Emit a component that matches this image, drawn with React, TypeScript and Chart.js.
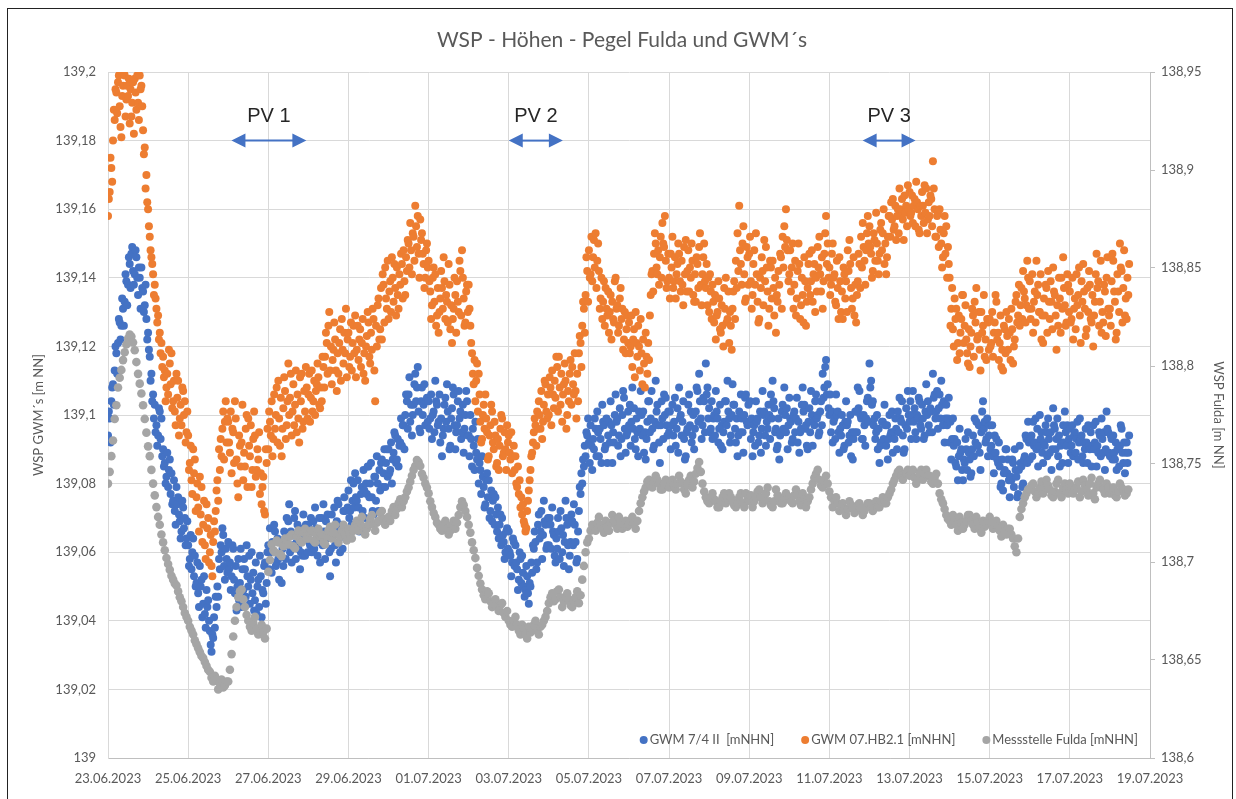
import React, { useEffect, useRef } from "react";
import { Chart, registerables } from "chart.js";

Chart.register(...registerables);

// ---------------- data ----------------
const chartTitle = "WSP - Höhen - Pegel Fulda und GWM´s";
const leftAxisTitle = "WSP GWM´s [m NN]";
const rightAxisTitle = "WSP Fulda [m NN]";

// x axis: days since 23.06.2023 00:00, tick every 2 days
const xTickLabels = [
  "23.06.2023", "25.06.2023", "27.06.2023", "29.06.2023", "01.07.2023", "03.07.2023", "05.07.2023",
  "07.07.2023", "09.07.2023", "11.07.2023", "13.07.2023", "15.07.2023", "17.07.2023", "19.07.2023",
];
const GWM_SAMPLES_PER_DAY = 48; // GWM loggers: half-hourly readings
const FULDA_SAMPLES_PER_DAY = 24; // Fulda gauge: hourly readings

const seriesNames = ["GWM 7/4 II  [mNHN]", "GWM 07.HB2.1 [mNHN]", "Messstelle Fulda [mNHN]"];
const seriesColors = ["#4472C4", "#ED7D31", "#A5A5A5"];

// GWM readings are in mm above 139.000 m NN (left axis)
const GWM_BASE_M = 139.0;
// Fulda readings are in mm above 138.600 m NN (right axis)
const FULDA_BASE_M = 138.6;

// GWM 7/4 II — one row per day, half-hourly
const gwm74II_mm = [
  94, 101, 99, 92, 104, 108, 109, 103, 113, 120, 118, 112, 121, 128, 127, 122, 126, 134, 131, 126, 133, 141, 139, 132, 138, 146, 144, 137, 147, 149, 142, 138, 141, 148, 146, 140, 135, 143, 140, 131, 143, 137, 136, 130, 132, 138, 128, 122,
  124, 119, 117, 110, 112, 104, 106, 99, 103, 95, 97, 91, 94, 102, 101, 93, 99, 88, 90, 85, 86, 80, 82, 89, 79, 84, 87, 77, 83, 74, 75, 81, 72, 68, 79, 74, 76, 71, 69, 64, 66, 75, 73, 67, 70, 62, 64, 69,
  62, 56, 58, 65, 55, 60, 64, 53, 59, 50, 51, 57, 48, 44, 56, 50, 52, 41, 45, 53, 42, 38, 49, 44, 46, 40, 37, 33, 31, 36, 35, 41, 38, 47, 44, 50, 47, 58, 55, 62, 60, 67, 65, 56, 52, 61, 58, 54,
  63, 55, 57, 49, 53, 62, 61, 52, 48, 56, 43, 50, 58, 46, 51, 61, 44, 55, 49, 58, 55, 47, 62, 53, 50, 59, 45, 52, 60, 48, 54, 43, 46, 57, 42, 50, 52, 44, 59, 53, 41, 49, 48, 56, 57, 45, 51, 60,
  62, 55, 67, 60, 54, 63, 60, 68, 66, 56, 57, 64, 58, 52, 63, 59, 51, 61, 56, 66, 64, 58, 70, 62, 69, 74, 60, 66, 57, 62, 65, 70, 72, 58, 63, 68, 61, 67, 55, 60, 66, 59, 71, 65, 59, 68, 64, 60,
  68, 63, 62, 70, 60, 66, 69, 61, 73, 67, 65, 59, 63, 70, 57, 64, 70, 62, 74, 66, 58, 69, 64, 71, 66, 60, 53, 61, 71, 65, 67, 73, 62, 57, 69, 75, 74, 66, 60, 68, 67, 61, 72, 76, 72, 64, 65, 73,
  78, 70, 72, 81, 68, 75, 80, 73, 83, 76, 75, 81, 73, 66, 69, 77, 79, 72, 84, 78, 70, 80, 77, 85, 85, 76, 80, 86, 76, 72, 71, 82, 82, 75, 88, 80, 72, 84, 78, 86, 87, 79, 83, 90, 79, 86, 90, 82,
  90, 83, 84, 92, 80, 87, 89, 95, 94, 86, 87, 93, 85, 91, 92, 99, 91, 97, 97, 90, 100, 106, 104, 96, 106, 111, 98, 103, 94, 100, 103, 109, 112, 104, 108, 114, 101, 96, 95, 104, 108, 100, 103, 109, 97, 104, 105, 98,
  104, 96, 99, 106, 93, 100, 101, 95, 110, 104, 103, 97, 98, 106, 92, 99, 88, 94, 96, 103, 105, 98, 109, 101, 96, 90, 91, 99, 102, 108, 106, 97, 90, 95, 97, 104, 107, 99, 101, 93, 95, 103, 89, 96, 100, 107, 104, 94,
  94, 88, 100, 93, 85, 96, 91, 84, 98, 89, 87, 93, 80, 86, 84, 77, 88, 82, 79, 73, 74, 81, 83, 76, 81, 70, 72, 78, 69, 75, 77, 68, 76, 71, 66, 73, 64, 68, 71, 62, 70, 65, 63, 58, 60, 66, 67, 61,
  66, 60, 59, 53, 57, 64, 63, 56, 62, 57, 55, 49, 52, 60, 58, 51, 59, 54, 50, 47, 49, 56, 53, 48, 45, 51, 50, 57, 54, 62, 61, 66, 63, 55, 57, 68, 71, 64, 66, 72, 58, 65, 75, 69, 68, 61, 62, 70,
  62, 70, 68, 61, 73, 66, 65, 59, 57, 64, 61, 70, 66, 58, 72, 67, 60, 65, 56, 63, 75, 70, 68, 62, 55, 59, 63, 71, 69, 62, 74, 68, 63, 57, 58, 66, 72, 79, 77, 83, 80, 87, 85, 91, 88, 95, 94, 99,
  92, 86, 97, 91, 84, 93, 90, 99, 96, 88, 101, 95, 88, 96, 93, 86, 103, 98, 97, 90, 91, 99, 86, 94, 98, 92, 104, 97, 86, 95, 92, 100, 106, 98, 99, 91, 94, 102, 88, 93, 100, 107, 105, 96, 89, 94, 95, 101,
  97, 103, 91, 98, 108, 96, 102, 93, 90, 99, 95, 88, 101, 96, 107, 100, 94, 101, 89, 95, 87, 93, 98, 104, 104, 95, 99, 107, 96, 90, 91, 98, 110, 101, 103, 97, 92, 86, 97, 104, 99, 93, 106, 100, 105, 97, 94, 101,
  95, 101, 90, 97, 103, 94, 98, 105, 91, 96, 102, 89, 108, 99, 100, 94, 98, 104, 93, 87, 88, 95, 96, 103, 106, 97, 101, 92, 94, 100, 90, 96, 101, 108, 107, 98, 112, 104, 99, 93, 97, 105, 104, 95, 115, 106, 108, 99,
  102, 95, 96, 104, 93, 99, 100, 94, 107, 101, 99, 92, 96, 103, 91, 97, 90, 95, 98, 104, 104, 97, 110, 101, 99, 92, 94, 100, 109, 103, 103, 96, 92, 99, 88, 94, 101, 95, 106, 99, 95, 89, 100, 105, 106, 98, 97, 103,
  98, 104, 93, 99, 88, 95, 97, 91, 104, 98, 99, 92, 94, 101, 89, 96, 107, 100, 101, 94, 91, 98, 96, 103, 100, 93, 106, 99, 110, 104, 102, 95, 96, 90, 91, 99, 87, 94, 95, 101, 103, 96, 108, 100, 95, 102, 90, 97,
  105, 99, 98, 92, 93, 100, 101, 95, 99, 105, 92, 98, 89, 95, 96, 103, 108, 101, 103, 96, 97, 91, 90, 98, 102, 95, 107, 100, 91, 98, 97, 104, 106, 99, 100, 94, 95, 101, 104, 97, 112, 105, 108, 114, 116, 106, 109, 102,
  100, 106, 95, 101, 92, 98, 99, 93, 106, 100, 101, 95, 89, 96, 94, 100, 97, 90, 91, 98, 104, 97, 98, 92, 94, 100, 88, 95, 87, 93, 95, 101, 101, 95, 108, 102, 107, 100, 99, 93, 93, 100, 97, 91, 99, 104, 105, 98,
  115, 108, 110, 103, 104, 97, 99, 93, 95, 100, 90, 96, 86, 91, 92, 98, 98, 93, 103, 97, 91, 97, 87, 93, 100, 94, 95, 101, 89, 95, 93, 99, 96, 90, 101, 95, 105, 99, 98, 104, 94, 89, 90, 97, 102, 96, 107, 100,
  98, 104, 93, 100, 107, 98, 102, 95, 93, 100, 99, 105, 104, 97, 96, 103, 99, 93, 94, 101, 109, 100, 104, 97, 95, 102, 101, 95, 112, 105, 106, 99, 101, 107, 96, 102, 106, 99, 110, 103, 97, 104, 92, 99, 103, 97, 99, 105,
  92, 98, 87, 93, 99, 91, 93, 86, 85, 92, 81, 88, 96, 89, 90, 84, 81, 87, 86, 93, 90, 84, 95, 89, 87, 82, 83, 90, 94, 88, 99, 92, 98, 91, 91, 97, 89, 84, 95, 101, 104, 96, 98, 92, 93, 99, 88, 94,
  97, 90, 91, 97, 88, 83, 94, 89, 93, 87, 86, 92, 85, 79, 80, 87, 78, 83, 84, 90, 90, 83, 87, 81, 76, 82, 81, 87, 86, 79, 90, 84, 82, 76, 77, 84, 91, 86, 85, 79, 80, 87, 88, 94, 93, 86, 98, 92,
  87, 93, 94, 88, 98, 91, 92, 99, 90, 96, 85, 91, 100, 93, 95, 89, 86, 92, 91, 97, 95, 88, 99, 93, 89, 95, 84, 90, 102, 97, 96, 90, 93, 99, 88, 94, 85, 91, 92, 86, 97, 92, 101, 95, 91, 97, 86, 93,
  96, 89, 91, 97, 88, 94, 95, 89, 93, 98, 87, 92, 99, 93, 94, 88, 86, 92, 90, 96, 92, 86, 97, 91, 90, 95, 85, 91, 97, 90, 92, 98, 85, 91, 89, 95, 94, 88, 99, 93, 89, 95, 84, 90, 101, 96, 95, 89,
  88, 94, 93, 87, 94, 89, 87, 92, 84, 90, 90, 85, 91, 97, 96, 89, 86, 92, 83, 89, 92, 86, 89, 94,
];

// GWM 07.HB2.1 — one row per day, half-hourly
const gwm07HB21_mm = [
  158, 163, 165, 175, 172, 168, 180, 189, 186, 195, 194, 188, 197, 199, 190, 184, 181, 193, 196, 200, 199, 187, 192, 196, 193, 198, 185, 195, 187, 191, 197, 182, 198, 194, 189, 199, 191, 186, 199, 195, 196, 190, 183, 176, 178, 166, 170, 162,
  160, 155, 152, 148, 146, 144, 141, 135, 138, 134, 131, 127, 129, 122, 124, 118, 121, 114, 117, 111, 113, 104, 108, 112, 106, 119, 115, 109, 118, 102, 104, 110, 101, 97, 112, 105, 110, 94, 99, 103, 97, 108, 107, 100, 104, 92, 95, 101,
  94, 84, 86, 91, 81, 77, 90, 83, 87, 72, 76, 80, 73, 66, 82, 71, 79, 63, 68, 75, 62, 58, 74, 67, 70, 57, 60, 65, 56, 53, 63, 69, 66, 72, 78, 81, 75, 90, 84, 93, 88, 96, 101, 87, 98, 104, 92, 99,
  98, 92, 89, 101, 83, 96, 95, 86, 104, 99, 87, 80, 76, 94, 91, 85, 92, 103, 81, 89, 85, 96, 100, 79, 99, 91, 88, 97, 79, 84, 93, 101, 94, 82, 84, 90, 87, 95, 77, 83, 74, 79, 82, 72, 71, 90, 86, 96,
  90, 101, 98, 94, 104, 88, 93, 106, 96, 100, 108, 92, 110, 99, 91, 105, 88, 96, 102, 111, 107, 93, 97, 104, 115, 100, 105, 112, 94, 101, 109, 97, 103, 113, 95, 106, 99, 92, 111, 104, 112, 96, 98, 107, 101, 114, 108, 99,
  106, 112, 98, 105, 113, 101, 104, 110, 100, 107, 109, 115, 111, 103, 102, 108, 104, 117, 114, 108, 117, 124, 121, 112, 126, 130, 113, 120, 109, 116, 119, 127, 122, 113, 107, 118, 112, 121, 125, 110, 128, 119, 115, 124, 118, 131, 111, 122,
  124, 114, 117, 127, 113, 121, 126, 118, 129, 111, 119, 126, 116, 122, 125, 114, 121, 128, 112, 118, 110, 120, 123, 130, 127, 117, 115, 124, 119, 131, 128, 113, 104, 126, 120, 132, 134, 122, 125, 137, 122, 141, 138, 127, 143, 134, 131, 145,
  128, 136, 139, 130, 146, 140, 133, 144, 137, 129, 143, 135, 131, 141, 138, 147, 144, 134, 148, 139, 135, 146, 142, 151, 150, 143, 156, 148, 141, 153, 152, 145, 161, 155, 149, 158, 147, 140, 157, 151, 153, 147, 144, 137, 140, 148, 150, 143,
  145, 139, 136, 128, 132, 140, 143, 133, 141, 126, 129, 137, 124, 130, 134, 142, 137, 131, 146, 139, 128, 135, 133, 127, 144, 138, 125, 132, 121, 128, 131, 140, 135, 124, 139, 133, 130, 145, 142, 129, 148, 140, 134, 126, 127, 136, 138, 130,
  138, 131, 126, 121, 118, 112, 109, 116, 104, 110, 115, 101, 112, 106, 98, 92, 93, 100, 103, 96, 106, 99, 95, 87, 88, 94, 97, 103, 101, 92, 90, 98, 94, 85, 86, 93, 84, 91, 96, 100, 99, 88, 89, 95, 90, 84, 97, 92,
  94, 89, 87, 95, 83, 88, 91, 84, 88, 80, 79, 85, 77, 81, 73, 76, 71, 74, 69, 68, 66, 67, 72, 75, 78, 81, 84, 88, 89, 92, 95, 99, 97, 91, 101, 96, 104, 100, 96, 107, 93, 98, 103, 110, 109, 101, 99, 106,
  100, 111, 108, 97, 113, 106, 102, 110, 105, 117, 114, 101, 117, 108, 103, 112, 98, 106, 109, 115, 110, 96, 100, 107, 104, 112, 116, 103, 114, 109, 106, 118, 107, 99, 112, 104, 118, 123, 121, 114, 126, 133, 131, 124, 135, 146, 142, 133,
  148, 140, 141, 152, 139, 146, 151, 143, 153, 137, 145, 150, 142, 131, 134, 140, 128, 133, 139, 126, 137, 131, 129, 136, 124, 130, 135, 122, 133, 128, 127, 139, 140, 131, 132, 124, 126, 134, 137, 128, 131, 119, 122, 130, 118, 125, 129, 121,
  127, 118, 120, 129, 114, 122, 125, 111, 130, 121, 117, 126, 120, 113, 128, 118, 109, 122, 115, 108, 124, 117, 112, 121, 116, 129, 135, 141, 142, 136, 147, 153, 150, 143, 141, 148, 138, 146, 152, 140, 156, 150, 149, 158, 145, 137, 139, 147,
  140, 134, 147, 143, 152, 137, 139, 146, 134, 141, 144, 150, 147, 139, 136, 145, 138, 132, 149, 141, 151, 136, 142, 148, 136, 143, 140, 150, 145, 135, 133, 141, 133, 146, 144, 137, 149, 153, 138, 132, 141, 146, 150, 139, 137, 144, 132, 140,
  130, 141, 136, 128, 138, 133, 127, 135, 122, 129, 130, 139, 134, 125, 124, 132, 126, 120, 137, 131, 140, 127, 128, 136, 121, 130, 126, 119, 131, 136, 139, 128, 145, 137, 153, 142, 161, 148, 144, 138, 150, 155, 141, 133, 134, 149, 146, 138,
  147, 152, 139, 131, 135, 144, 148, 138, 153, 141, 133, 127, 128, 140, 137, 146, 142, 132, 151, 139, 149, 143, 136, 126, 131, 145, 143, 134, 145, 137, 129, 140, 124, 135, 133, 142, 138, 147, 146, 131, 152, 143, 155, 149, 160, 151, 148, 139,
  141, 148, 136, 143, 150, 131, 138, 145, 129, 134, 142, 150, 144, 128, 132, 140, 135, 127, 146, 139, 126, 133, 137, 144, 147, 135, 139, 148, 133, 141, 144, 130, 140, 136, 149, 143, 152, 141, 136, 146, 131, 139, 147, 153, 158, 144, 150, 140,
  143, 135, 138, 147, 150, 140, 141, 133, 132, 145, 137, 128, 146, 139, 130, 136, 128, 143, 141, 134, 139, 130, 148, 142, 151, 144, 137, 131, 134, 146, 129, 138, 127, 135, 139, 147, 144, 137, 152, 143, 156, 149, 145, 138, 148, 153, 158, 150,
  155, 149, 147, 140, 142, 153, 151, 145, 159, 150, 145, 141, 147, 154, 156, 148, 153, 160, 144, 150, 141, 146, 152, 158, 158, 152, 162, 157, 163, 154, 155, 161, 151, 158, 160, 153, 166, 160, 158, 163, 157, 151, 164, 159, 161, 155, 167, 160,
  165, 158, 159, 164, 156, 161, 163, 155, 168, 162, 160, 154, 153, 161, 158, 165, 161, 156, 167, 159, 166, 153, 157, 162, 158, 164, 163, 155, 174, 166, 160, 152, 152, 158, 159, 149, 160, 154, 150, 143, 146, 153, 158, 147, 155, 140, 149, 144,
  140, 126, 131, 137, 125, 120, 134, 128, 131, 116, 121, 129, 118, 124, 128, 135, 135, 121, 126, 132, 122, 118, 115, 125, 114, 120, 124, 131, 129, 117, 133, 127, 137, 122, 123, 130, 119, 113, 130, 124, 126, 135, 117, 122, 116, 128, 127, 119,
  128, 120, 121, 130, 117, 124, 127, 135, 133, 122, 124, 116, 121, 129, 114, 119, 113, 126, 125, 118, 130, 123, 119, 128, 124, 116, 131, 125, 115, 120, 122, 133, 135, 127, 129, 138, 126, 132, 137, 128, 142, 136, 134, 127, 132, 145, 140, 131,
  139, 128, 131, 141, 124, 133, 136, 127, 145, 135, 138, 130, 130, 141, 122, 129, 121, 134, 129, 138, 137, 124, 142, 133, 128, 139, 133, 125, 143, 136, 135, 129, 119, 132, 126, 140, 134, 124, 140, 131, 146, 137, 132, 126, 127, 141, 138, 130,
  136, 127, 128, 140, 122, 131, 134, 125, 141, 132, 135, 143, 129, 121, 139, 133, 144, 136, 131, 123, 125, 137, 130, 142, 138, 128, 127, 135, 120, 129, 133, 141, 147, 137, 139, 126, 133, 145, 124, 130, 127, 138, 136, 123, 140, 146, 131, 129,
  131, 126, 139, 147, 145, 136, 133, 122, 124, 141, 136, 130, 150, 143, 142, 127, 137, 148, 129, 134, 128, 140, 135, 144,
];

// Messstelle Fulda — one row per day, hourly (mm above 138.600 m NN)
const fulda_mm = [
  140, 146, 154, 162, 173, 180, 189, 194, 198, 203, 207, 211, 214, 216, 215, 212, 208, 202, 196, 191, 186, 180, 173, 166,
  159, 154, 147, 140, 134, 128, 123, 119, 114, 110, 106, 102, 99, 96, 93, 91, 89, 88, 85, 82, 80, 77, 74, 72,
  70, 67, 65, 63, 60, 58, 56, 54, 52, 51, 49, 47, 45, 44, 41, 39, 42, 40, 35, 38, 40, 36, 37, 39,
  39, 45, 53, 62, 70, 77, 82, 85, 86, 81, 77, 73, 70, 67, 65, 69, 72, 66, 63, 65, 68, 64, 61, 66,
  95, 101, 109, 106, 105, 111, 110, 104, 103, 108, 112, 110, 109, 113, 114, 108, 107, 113, 116, 111, 110, 115, 117, 112,
  112, 115, 116, 111, 110, 114, 117, 113, 114, 110, 109, 113, 116, 118, 112, 115, 119, 114, 110, 113, 116, 119, 114, 111,
  117, 114, 112, 116, 119, 121, 116, 120, 123, 118, 114, 117, 119, 122, 124, 119, 116, 120, 121, 125, 126, 122, 119, 121,
  123, 121, 126, 128, 124, 127, 130, 132, 128, 131, 133, 136, 138, 141, 144, 147, 149, 152, 151, 149, 145, 143, 140, 138,
  135, 131, 128, 125, 123, 120, 119, 117, 116, 119, 121, 117, 114, 116, 119, 121, 117, 120, 124, 128, 131, 129, 126, 123,
  119, 115, 110, 106, 102, 97, 93, 89, 86, 83, 81, 85, 84, 80, 77, 79, 81, 77, 75, 78, 79, 74, 72, 75,
  70, 68, 67, 70, 72, 68, 65, 63, 68, 66, 63, 61, 67, 64, 65, 68, 70, 66, 63, 67, 68, 70, 72, 75,
  79, 82, 84, 80, 81, 85, 86, 82, 77, 80, 82, 84, 81, 78, 77, 80, 82, 85, 79, 83, 91, 98, 105, 110,
  112, 116, 119, 117, 116, 120, 123, 119, 117, 115, 121, 118, 116, 120, 124, 121, 119, 117, 123, 120, 117, 119, 121, 118,
  119, 121, 123, 120, 117, 121, 126, 130, 133, 136, 138, 141, 142, 139, 138, 141, 144, 142, 140, 137, 137, 140, 142, 139,
  138, 141, 142, 139, 137, 140, 144, 141, 140, 137, 135, 139, 142, 144, 138, 141, 145, 148, 151, 146, 140, 136, 133, 131,
  130, 133, 135, 132, 131, 128, 128, 131, 133, 135, 130, 132, 135, 133, 131, 129, 128, 130, 133, 135, 130, 128, 135, 132,
  131, 134, 128, 131, 133, 136, 137, 133, 130, 132, 135, 138, 131, 129, 128, 131, 137, 134, 133, 130, 130, 133, 135, 132,
  133, 131, 130, 134, 137, 134, 131, 129, 135, 132, 128, 131, 133, 137, 140, 143, 145, 147, 142, 139, 138, 141, 144, 140,
  136, 133, 128, 131, 133, 130, 126, 129, 130, 127, 124, 127, 131, 129, 128, 125, 126, 129, 130, 127, 124, 126, 128, 130,
  130, 128, 126, 129, 131, 128, 128, 131, 133, 130, 130, 133, 135, 137, 140, 142, 144, 146, 147, 144, 142, 145, 145, 147,
  144, 146, 147, 143, 140, 143, 145, 147, 142, 145, 147, 144, 144, 141, 140, 143, 145, 140, 135, 132, 130, 127, 124, 122,
  121, 119, 124, 121, 119, 116, 123, 120, 117, 119, 121, 124, 124, 121, 119, 117, 123, 120, 117, 115, 121, 118, 119, 121,
  123, 120, 117, 119, 121, 118, 116, 113, 119, 116, 114, 117, 117, 114, 112, 108, 105, 112, 123, 127, 130, 133, 135, 137,
  137, 139, 140, 136, 133, 135, 138, 141, 135, 138, 142, 139, 137, 134, 133, 136, 140, 142, 135, 133, 138, 140, 137, 135,
  140, 138, 135, 137, 138, 141, 133, 136, 142, 139, 137, 134, 140, 143, 135, 132, 138, 140, 142, 138, 137, 135, 140, 138,
  135, 137, 138, 134, 133, 136, 140, 138, 137, 134, 135, 137,
];

// PV annotations (days since 23.06.2023)
const pvLabels = ["PV 1", "PV 2", "PV 3"];
const pvFrom = [3.08, 10.0, 18.83];
const pvTo = [4.95, 11.35, 20.15];
const PV_ARROW_LEVEL = 139.18;
const PV_TEXT_LEVEL = 139.187;

// ---------------- chart ----------------
const FONT = "Lato, 'Open Sans', sans-serif";
const TEXT_COLOR = "#595959";

const fmtNum = (v: number) => String(Math.round(Number(v) * 100) / 100).replace(".", ",");
const toPoints = (mm: number[], base: number, perDay: number) =>
  mm.map((v, i) => ({ x: i / perDay, y: base + v / 1000 }));

const titlePlugin = {
  id: "customTitle",
  afterDraw(chart: any) {
    const { ctx } = chart;
    ctx.save();
    ctx.font = `21px ${FONT}`;
    ctx.fillStyle = TEXT_COLOR;
    ctx.textAlign = "center";
    ctx.textBaseline = "middle";
    ctx.fillText(chartTitle, chart.width / 2 + 4, 40);
    ctx.restore();
  },
};

const legendPlugin = {
  id: "insideLegend",
  afterDraw(chart: any) {
    const { ctx, chartArea } = chart;
    ctx.save();
    ctx.font = `13px ${FONT}`;
    ctx.textBaseline = "middle";
    ctx.textAlign = "left";
    const y = chartArea.bottom - 18;
    let textEnd = chartArea.right - 12;
    for (let i = seriesNames.length - 1; i >= 0; i--) {
      const w = ctx.measureText(seriesNames[i]).width;
      const textStart = textEnd - w;
      const mx = textStart - 6;
      ctx.fillStyle = seriesColors[i];
      ctx.beginPath();
      ctx.arc(mx, y, 4, 0, Math.PI * 2);
      ctx.fill();
      ctx.fillStyle = TEXT_COLOR;
      ctx.fillText(seriesNames[i], textStart, y);
      textEnd = mx - 31;
    }
    ctx.restore();
  },
};

const pvPlugin = {
  id: "pvArrows",
  afterDraw(chart: any) {
    const { ctx } = chart;
    const xs = chart.scales.x;
    const ys = chart.scales.y;
    ctx.save();
    for (let i = 0; i < pvLabels.length; i++) {
      const x1 = xs.getPixelForValue(pvFrom[i]);
      const x2 = xs.getPixelForValue(pvTo[i]);
      const ya = ys.getPixelForValue(PV_ARROW_LEVEL);
      const yt = ys.getPixelForValue(PV_TEXT_LEVEL);
      const head = 14;
      const hw = 7;
      ctx.strokeStyle = "#4472C4";
      ctx.fillStyle = "#4472C4";
      ctx.lineWidth = 2;
      ctx.beginPath();
      ctx.moveTo(x1 + head - 2, ya);
      ctx.lineTo(x2 - head + 2, ya);
      ctx.stroke();
      ctx.beginPath();
      ctx.moveTo(x1, ya);
      ctx.lineTo(x1 + head, ya - hw);
      ctx.lineTo(x1 + head, ya + hw);
      ctx.closePath();
      ctx.fill();
      ctx.beginPath();
      ctx.moveTo(x2, ya);
      ctx.lineTo(x2 - head, ya - hw);
      ctx.lineTo(x2 - head, ya + hw);
      ctx.closePath();
      ctx.fill();
      ctx.font = "20px 'Liberation Sans', Arial, sans-serif";
      ctx.fillStyle = "#262626";
      ctx.textAlign = "center";
      ctx.textBaseline = "middle";
      ctx.fillText(pvLabels[i], (x1 + x2) / 2, yt);
    }
    ctx.restore();
  },
};

export default function App() {
  const canvasRef = useRef<HTMLCanvasElement | null>(null);

  useEffect(() => {
    if (!canvasRef.current) return;
    let alive = true;
    const tickFont = { family: FONT, size: 13 };
    const mkDs = (
      label: string,
      mm: number[],
      base: number,
      perDay: number,
      color: string,
      axis: string,
      order: number,
      radius: number
    ) => ({
      label,
      data: toPoints(mm, base, perDay),
      yAxisID: axis,
      backgroundColor: color,
      borderColor: color,
      pointRadius: radius,
      pointBorderWidth: 0,
      showLine: false,
      order,
    });
    const chart = new Chart(canvasRef.current, {
      type: "scatter",
      data: {
        datasets: [
          mkDs(seriesNames[0], gwm74II_mm, GWM_BASE_M, GWM_SAMPLES_PER_DAY, seriesColors[0], "y", 2, 4),
          mkDs(seriesNames[1], gwm07HB21_mm, GWM_BASE_M, GWM_SAMPLES_PER_DAY, seriesColors[1], "y", 1, 4),
          mkDs(seriesNames[2], fulda_mm, FULDA_BASE_M, FULDA_SAMPLES_PER_DAY, seriesColors[2], "y1", 0, 4.3),
        ],
      },
      options: {
        animation: false,
        responsive: false,
        maintainAspectRatio: false,
        events: [],
        layout: { padding: { left: 27, right: 3, top: 72, bottom: 0 } },
        plugins: {
          legend: { display: false },
          tooltip: { enabled: false },
          title: { display: false },
        },
        scales: {
          x: {
            type: "linear",
            min: 0,
            max: 26,
            afterFit: (s: any) => {
              s.height = 41;
            },
            ticks: {
              stepSize: 2,
              autoSkip: false,
              maxRotation: 0,
              minRotation: 0,
              padding: 13,
              color: TEXT_COLOR,
              font: tickFont,
              callback: (v: any) => xTickLabels[Math.round(Number(v) / 2)] ?? "",
            },
            grid: { color: "#d9d9d9", drawTicks: false },
            border: { color: "#bfbfbf" },
          },
          y: {
            position: "left",
            min: 139,
            max: 139.2,
            afterFit: (s: any) => {
              s.width = 81;
            },
            ticks: { stepSize: 0.02, padding: 12, color: TEXT_COLOR, font: tickFont, callback: (v: any) => fmtNum(v) },
            grid: { color: "#d9d9d9", drawTicks: false },
            border: { color: "#d9d9d9" },
            title: {
              display: true,
              text: leftAxisTitle,
              color: TEXT_COLOR,
              font: { family: FONT, size: 13 },
              padding: { top: 4, bottom: 0 },
            },
          },
          y1: {
            position: "right",
            min: 138.6,
            max: 138.95,
            afterFit: (s: any) => {
              s.width = 83;
            },
            ticks: { stepSize: 0.05, padding: 6, color: TEXT_COLOR, font: tickFont, callback: (v: any) => fmtNum(v) },
            grid: { drawOnChartArea: false, drawTicks: true, tickLength: 5, color: "#bfbfbf" },
            border: { color: "#bfbfbf" },
            title: {
              display: true,
              text: rightAxisTitle,
              color: TEXT_COLOR,
              font: { family: FONT, size: 13 },
              padding: { top: 7, bottom: 0 },
            },
          },
        },
      } as any,
      plugins: [titlePlugin, legendPlugin, pvPlugin],
    });
    const fontsToLoad = [`13px ${FONT}`, `21px ${FONT}`, "20px 'Liberation Sans'"];
    Promise.all(fontsToLoad.map((f) => (document as any).fonts.load(f)))
      .then(() => {
        if (alive) chart.update();
      })
      .catch(() => {});
    return () => {
      alive = false;
      chart.destroy();
    };
  }, []);

  return (
    <div style={{ position: "absolute", left: 0, top: 0, width: 1236, height: 799, background: "#fff", overflow: "hidden" }}>
      <canvas ref={canvasRef} width={1236} height={799} style={{ position: "absolute", left: 0, top: 0, width: 1236, height: 799 }} />
      <div
        style={{
          position: "absolute",
          left: 7,
          top: 8,
          width: 1224,
          height: 800,
          border: "1px solid #222",
          pointerEvents: "none",
        }}
      />
    </div>
  );
}
